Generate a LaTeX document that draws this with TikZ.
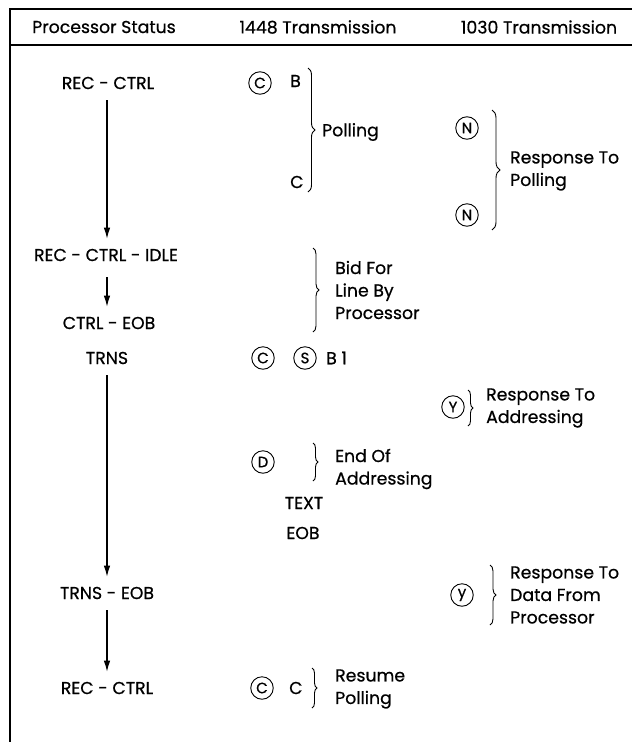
\documentclass[tikz,border=0pt]{standalone}
\usepackage{fontspec}
\setmainfont{Poppins}[FakeBold=0.6]
\usetikzlibrary{arrows.meta,decorations.pathreplacing}
\begin{document}
\begin{tikzpicture}[x=1pt,y=-1pt,
  lbl/.style={inner sep=2pt, font=\fontsize{17.3}{22.5}\selectfont},
  blk/.style={lbl, align=left, anchor=west},
  circ/.style={draw, circle, line width=0.9pt, minimum size=22.5pt, inner sep=0pt, font=\fontsize{15}{15}\selectfont},
  flow/.style={line width=1.1pt, -{Latex[length=11pt,width=6.5pt]}, shorten <=9pt, shorten >=8pt},
  brc/.style={decorate, decoration={brace, amplitude=#1}, line width=0.9pt},
  frame/.style={line width=1.1pt}]
\useasboundingbox (0,0) rectangle (632,742);
% frame
\coordinate (tr) at (632,9);
\coordinate (tl) at (10,9);
\coordinate (bl) at (10,742);
\coordinate (hl) at (10,45);
\coordinate (hr) at (632,45);
\draw[frame] (tr) -- (tl) -- (bl);
\draw[frame] (hl) -- (hr);
% header
\node[lbl] (h1) at (104,27) {Processor Status};
\node[lbl] (h2) at (318,27) {1448 Transmission};
\node[lbl] (h3) at (539,27) {1030 Transmission};
% processor status column
\node[lbl] (n1) at (108,83) {REC - CTRL};
\node[lbl] (n2) at (106,255) {REC - CTRL - IDLE};
\node[lbl] (n3) at (109,323) {CTRL - EOB};
\node[lbl] (n4) at (107,358) {TRNS};
\node[lbl] (n5) at (107,593) {TRNS - EOB};
\node[lbl] (n6) at (107,688) {REC - CTRL};
\coordinate (ax) at (107,0);
\draw[flow] (ax |- n1.south) -- (ax |- n2.north);
\draw[flow, shorten <=14pt] (ax |- n2.south) -- (ax |- n3.north);
\draw[flow] (ax |- n4.south) -- (ax |- n5.north);
\draw[flow] (ax |- n5.south) -- (ax |- n6.north);
% 1448 column
\node[circ] (c1) at (260,83) {C};
\node[lbl, anchor=west] (b1) at (288,81) {B};
\node[lbl, anchor=west] (c1b) at (288,182) {C};
\coordinate (p1t) at (308,68);
\coordinate (p1b) at (308,192);
\draw[brc=7pt] (p1t) -- (p1b);
\node[blk] (poll) at (320,132) {Polling};

\coordinate (p3t) at (313,248);
\coordinate (p3b) at (313,332);
\draw[brc=6pt] (p3t) -- (p3b);
\node[blk] (bid) at (333,290) {Bid For\\Line By\\Processor};

\node[circ] (c2) at (263,358) {C};
\node[circ] (s1) at (305,358) {S};
\node[lbl, anchor=west] (b1t) at (324,358) {B 1};

\node[circ] (d1) at (263,462) {D};
\coordinate (p5t) at (313,443);
\coordinate (p5b) at (313,481);
\draw[brc=5pt] (p5t) -- (p5b);
\node[blk] (eoa) at (333,469) {End Of\\Addressing};

\node[lbl] (txt) at (304,503) {TEXT};
\node[lbl] (eob) at (303,533) {EOB};

\node[circ] (c3) at (262,688) {C};
\node[lbl, anchor=west] (c3b) at (287,688) {C};
\coordinate (p7t) at (312,668);
\coordinate (p7b) at (312,708);
\draw[brc=5pt] (p7t) -- (p7b);
\node[blk] (res) at (333,689) {Resume\\Polling};
% 1030 column
\node[circ] (nn1) at (467,128) {N};
\node[circ] (nn2) at (467,215) {N};
\coordinate (p2t) at (492,110);
\coordinate (p2b) at (492,230);
\draw[brc=8pt] (p2t) -- (p2b);
\node[blk] (rtp) at (508,171) {Response To\\Polling};

\node[circ] (yy1) at (453,407) {Y};
\coordinate (p4t) at (468,390);
\coordinate (p4b) at (468,426);
\draw[brc=5pt] (p4t) -- (p4b);
\node[blk] (rta) at (484,408) {Response To\\Addressing};

\node[circ] (yy2) at (462,595) {y};
\coordinate (p6t) at (490,565);
\coordinate (p6b) at (490,625);
\draw[brc=6pt] (p6t) -- (p6b);
\node[blk] (rtd) at (508,595) {Response To\\Data From\\Processor};
\end{tikzpicture}
\end{document}
